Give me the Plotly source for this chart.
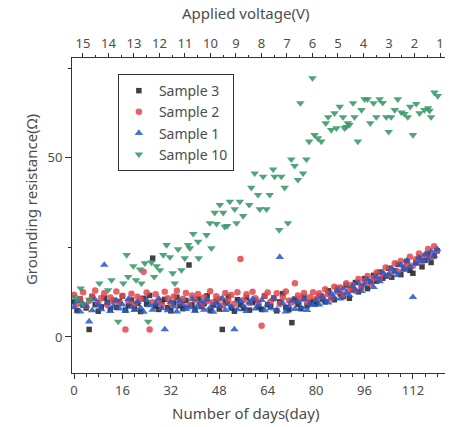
import plotly.graph_objects as go

# ---------------- data ----------------
days = list(range(0, 121))

sample3 = [9.8, 7.4, 10.6, 8.9, 8.1, 2.1, 11.2, 9.0, 7.2, 8.4, 10.9, 9.6, 7.8, 10.1, 8.3, 9.9, 11.4, 7.5, 8.8, 10.3,
           8.0, 9.4, 7.1, 10.8, 9.2, 11.6, 22.0, 8.6, 7.7, 9.9, 10.5, 8.2, 7.3, 9.5, 11.1, 8.7, 7.9, 10.2, 20.1, 9.0,
           7.6, 10.7, 8.5, 9.3, 11.5, 7.4, 8.9, 10.0, 7.8, 2.1, 9.7, 11.3, 8.1, 7.2, 10.4, 9.1, 8.0, 11.0, 7.5, 9.6,
           10.2, 8.3, 7.7, 11.4, 9.0, 8.6, 10.9, 7.3, 9.8, 12.1, 8.2, 7.6, 4.0, 10.6, 9.1, 7.9, 11.2, 8.7, 9.5, 10.0,
           9.3, 11.5, 10.6, 9.8, 12.9, 11.1, 10.4, 13.6, 12.0, 11.3, 14.5, 10.8, 13.1, 15.2, 12.6, 14.0, 16.3, 13.5, 15.4, 17.2,
           15.6, 18.1, 16.4, 17.0, 19.2, 16.7, 18.5, 20.3, 17.4, 19.0, 21.1, 18.6, 17.8, 20.7, 22.0, 19.6, 21.4, 23.3, 20.8, 22.6, 24.1]

sample2 = [11.8, 9.2, 10.6, 12.5, 8.7, 10.1, 11.4, 13.0, 9.5, 10.9, 12.2, 8.9, 11.0, 10.3, 12.7, 9.6, 11.5, 2.1, 10.0, 12.1,
           9.3, 11.2, 10.5, 18.2, 12.4, 2.1, 9.7, 11.9, 10.2, 8.8, 12.6, 10.8, 9.4, 11.3, 12.9, 9.9, 10.7, 12.3, 8.9, 11.6,
           10.4, 12.0, 9.1, 11.1, 10.0, 12.8, 9.7, 11.4, 10.6, 8.8, 12.3, 10.1, 11.7, 9.3, 12.5, 21.8, 10.3, 11.9, 9.5, 12.6,
           10.8, 9.4, 3.1, 11.5, 12.4, 9.9, 10.7, 12.2, 9.2, 11.0, 12.7, 10.2, 9.6, 15.0, 11.6, 10.5, 12.3, 9.8, 11.1, 12.5,
           10.7, 12.2, 11.4, 13.3, 11.9, 10.9, 14.0, 12.6, 13.8, 11.8, 15.0, 13.2, 14.5, 12.9, 16.2, 14.1, 15.6, 17.0, 14.9, 16.4,
           18.0, 16.1, 17.6, 19.4, 17.2, 18.8, 20.6, 18.3, 21.2, 19.5, 20.1, 22.4, 19.9, 21.7, 23.3, 21.0, 22.8, 24.6, 22.2, 25.3, 24.0]

sample1 = [8.3, 10.0, 7.1, 9.2, 8.6, 4.3, 7.4, 10.4, 8.9, 7.7, 20.1, 9.5, 7.2, 8.6, 10.2, 7.9, 9.0, 7.3, 10.6, 8.4,
           7.5, 9.7, 8.1, 7.0, 10.3, 8.8, 7.6, 9.4, 10.7, 8.0, 2.1, 7.4, 9.8, 8.5, 7.1, 10.1, 9.0, 7.8, 8.3, 10.5,
           7.3, 8.9, 9.9, 7.6, 10.4, 8.2, 7.0, 9.3, 8.7, 10.8, 7.5, 9.1, 8.4, 2.1, 7.7, 10.0, 8.6, 7.2, 9.6, 10.6,
           7.9, 8.8, 10.3, 7.4, 9.1, 8.0, 10.7, 7.6, 22.3, 9.4, 7.1, 8.5, 10.1, 7.8, 9.7, 8.3, 10.5, 7.5, 9.2, 8.9,
           10.2, 9.0, 11.3, 10.1, 9.6, 12.2, 11.0, 12.9, 10.7, 13.4, 12.3, 11.6, 14.2, 13.0, 15.1, 12.8, 14.6, 16.0, 15.3, 13.9,
           16.8, 15.5, 18.0, 16.9, 17.5, 19.1, 18.2, 17.3, 20.0, 18.9, 21.3, 19.6, 11.1, 20.5, 22.1, 21.2, 23.0, 21.8, 23.9, 22.7, 24.5]

sample10_days = [0, 1, 2.2, 3, 5, 8.4, 11.3, 12.4, 14.6, 16.3, 17.4, 17.9, 19.6, 20.5, 21.8, 22.3, 23.4, 24.5, 25.6, 26.5,
                 27.3, 28.4, 29.5, 30.6, 31.7, 32.6, 33.3, 34.4, 35.5, 36.6, 37.7, 38.3, 39.4, 41, 41.2, 43.8, 44.9, 45.4, 46.5, 47.1,
                 48.2, 49.3, 49.8, 50.6, 51.5, 53.1, 53.7, 54.8, 55.9, 57.9, 58.6, 59.7, 60.8, 61.4, 62.5, 63.6, 64.7, 65.8, 66.3, 67.8,
                 68.5, 69.6, 70.7, 71.8, 72.9, 74, 74.8, 75.7, 76.8, 77.7, 78.8, 79.5, 80.6, 81.7, 83.2, 84, 85, 86.1, 86.7, 87.8,
                 88.9, 89.4, 90, 90.5, 91, 92.2, 92.7, 93.8, 95, 96, 97, 97.9, 99, 99.9, 101, 102, 103.2, 104, 104.8, 106,
                 107, 108.2, 109.2, 110.3, 111.1, 112, 113.1, 114.2, 115.8, 117, 117.5, 118, 119.1, 120.2]
sample10 = [11.3, 10.5, 13.6, 9.2, 10.4, 15.0, 13.1, 15.9, 4.3, 15.0, 22.9, 16.8, 19.8, 15.9, 18.9, 15.0, 20.6, 4.3, 20.8, 16.8,
            19.8, 18.7, 22.9, 25.7, 22.3, 17.8, 15.0, 24.5, 18.7, 22.0, 25.7, 24.8, 28.8, 26.6, 22.0, 28.5, 31.8, 24.8, 34.7, 31.6,
            36.9, 34.7, 30.8, 31.0, 37.8, 35.7, 31.8, 37.8, 33.8, 36.9, 41.7, 45.7, 39.7, 35.7, 44.8, 35.7, 39.7, 46.8, 44.8, 29.9,
            44.8, 41.7, 31.8, 49.6, 47.8, 43.9, 65.3, 45.7, 49.6, 54.6, 72.3, 56.4, 55.5, 54.6, 59.7, 61.4, 57.8, 62.5, 58.3, 64.3,
            61.4, 58.3, 58.7, 59.7, 59.2, 65.3, 61.4, 54.6, 63.4, 66.4, 66.4, 59.7, 65.3, 61.4, 66.4, 65.4, 61.4, 57.3, 61.4, 63.4,
            66.4, 62.7, 62.3, 61.4, 64.3, 56.4, 65.1, 62.5, 63.4, 63.9, 63.2, 61.4, 68.3, 67.3]

day_ticks = [0, 16, 32, 48, 64, 80, 96, 112]
voltage_ticks = [15, 14, 13, 12, 11, 10, 9, 8, 7, 6, 5, 4, 3, 2, 1]
y_ticks = [0, 50]

# ---------------- figure ----------------
FONT = "Noto Sans"
TXT = "#4d4d4d"
AX = "#333333"

fig = go.Figure()
fig.add_trace(go.Scatter(x=days, y=sample3, mode="markers", name="Sample 3",
                         marker=dict(symbol="square", size=5.5, color="#2b2b2b", opacity=0.9)))
fig.add_trace(go.Scatter(x=days, y=sample2, mode="markers", name="Sample 2",
                         marker=dict(symbol="circle", size=6.5, color="#e0474c", opacity=0.85)))
fig.add_trace(go.Scatter(x=days, y=sample1, mode="markers", name="Sample 1",
                         marker=dict(symbol="triangle-up", size=7.5, color="#2458cc", opacity=0.85)))
fig.add_trace(go.Scatter(x=sample10_days, y=sample10, mode="markers", name="Sample 10",
                         marker=dict(symbol="triangle-down", size=7.5, color="#3d9a6a", opacity=0.9)))
# invisible trace to carry the top (voltage) axis
fig.add_trace(go.Scatter(x=voltage_ticks, y=[None] * len(voltage_ticks), xaxis="x2", yaxis="y",
                         mode="markers", showlegend=False, hoverinfo="skip"))

fig.update_layout(
    width=450, height=427,
    margin=dict(l=72, r=5, t=58, b=54),
    paper_bgcolor="white", plot_bgcolor="white",
    font=dict(family=FONT, color=TXT, size=13),
    showlegend=True,
    legend=dict(x=0.123, y=0.949, xanchor="left", yanchor="top",
                bordercolor="#333333", borderwidth=1, bgcolor="rgba(255,255,255,0)",
                font=dict(size=14, family=FONT, color=TXT), tracegroupgap=0,
                itemwidth=30),
    xaxis=dict(range=[-0.66, 122.6], tickmode="array", tickvals=day_ticks,
               ticks="outside", ticklen=5, tickcolor=AX, showline=True, linecolor=AX, linewidth=1,
               showgrid=False, zeroline=False, tickfont=dict(size=13, color=TXT),
               minor=dict(dtick=4, tick0=0, ticks="outside", ticklen=3, tickcolor=AX, showgrid=False)),
    xaxis2=dict(range=[15.43, 0.804], overlaying="x", side="top", anchor="y",
                tickmode="array", tickvals=voltage_ticks,
                ticks="outside", ticklen=4, tickcolor=AX, showline=True, linecolor=AX, linewidth=1,
                showgrid=False, zeroline=False, tickfont=dict(size=13, color=TXT),
                minor=dict(dtick=0.5, tick0=0.5, ticks="outside", ticklen=2, tickcolor=AX, showgrid=False)),
    yaxis=dict(range=[-10.06, 77.9], tickmode="array", tickvals=y_ticks,
               ticks="outside", ticklen=6, tickcolor=AX, showline=True, linecolor=AX, linewidth=1,
               showgrid=False, zeroline=False, tickfont=dict(size=13, color=TXT),
               minor=dict(dtick=25, tick0=0, ticks="outside", ticklen=3, tickcolor=AX, showgrid=False)),
    annotations=[
        dict(text="Applied voltage(V)", xref="paper", yref="paper", x=0.466, y=1.0, yshift=45,
             showarrow=False, font=dict(size=15, color=TXT, family=FONT), xanchor="center", yanchor="middle"),
        dict(text="Number of days(day)", xref="paper", yref="paper", x=0.466, y=0.0, yshift=-40,
             showarrow=False, font=dict(size=15, color=TXT, family=FONT), xanchor="center", yanchor="middle"),
        dict(text="Grounding resistance(Ω)", xref="paper", yref="paper", x=0.0, xshift=-41, y=0.549,
             textangle=-90, showarrow=False, font=dict(size=15, color=TXT, family=FONT),
             xanchor="center", yanchor="middle"),
    ],
)

# remove the browser's default 8px page margin so the figure sits at the window's corner
fig.write_html("out.html", config={"displayModeBar": False},
               post_script="document.body.style.margin='0';")
